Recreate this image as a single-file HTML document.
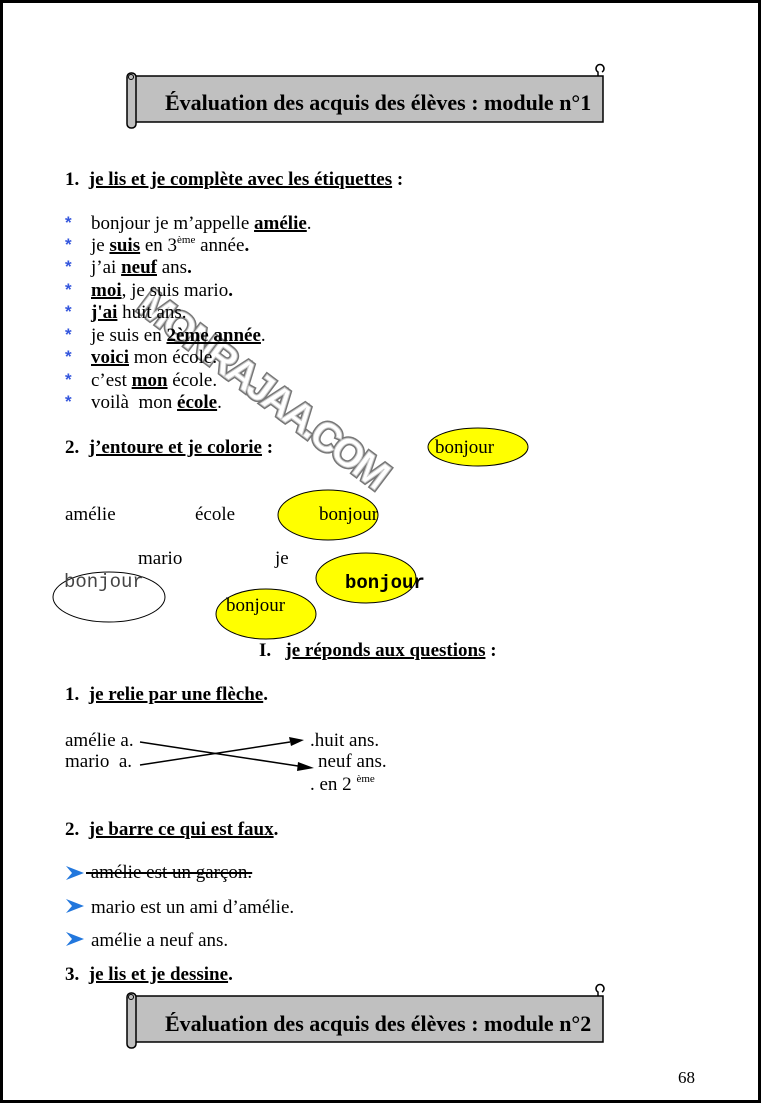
<!DOCTYPE html>
<html><head><meta charset="utf-8"><style>
body{margin:0;width:761px;height:1103px;position:relative;background:#fff;overflow:hidden;font-family:"Liberation Serif",serif;}
.t{position:absolute;font-size:19px;line-height:20px;white-space:nowrap;color:#000}
.b{font-weight:bold}
u{text-decoration-thickness:1.5px}
.st{position:absolute;color:#3355dd;font-weight:bold;font-size:17px;line-height:18px;font-family:"Liberation Sans",sans-serif}
sup{font-size:11px;vertical-align:8px;line-height:0}
.title{position:absolute;font-size:22px;font-weight:bold;white-space:nowrap;line-height:24px}
</style></head><body>
<div style="position:absolute;left:0;top:0;width:755px;height:1097px;border:3px solid #000"></div>
<svg width="761" height="1103" style="position:absolute;left:0;top:0">
 <g id="b1">
  <rect x="133" y="76" width="470" height="46" fill="#c0c0c0" stroke="#000" stroke-width="1.5"/>
  <path d="M598 76 V72 a4 4 0 1 1 4 0" fill="none" stroke="#000" stroke-width="1.5"/>
  <rect x="127" y="73" width="9" height="55" rx="4" fill="#c0c0c0" stroke="#000" stroke-width="1.5"/>
  <circle cx="131" cy="77" r="2.5" fill="none" stroke="#000"/>
 </g>
 <g transform="translate(0,920)">
  <rect x="133" y="76" width="470" height="46" fill="#c0c0c0" stroke="#000" stroke-width="1.5"/>
  <path d="M598 76 V72 a4 4 0 1 1 4 0" fill="none" stroke="#000" stroke-width="1.5"/>
  <rect x="127" y="73" width="9" height="55" rx="4" fill="#c0c0c0" stroke="#000" stroke-width="1.5"/>
  <circle cx="131" cy="77" r="2.5" fill="none" stroke="#000"/>
 </g>
 <ellipse cx="478" cy="447" rx="50" ry="19" fill="#ffff00" stroke="#000"/>
 <ellipse cx="328" cy="515" rx="50" ry="25" fill="#ffff00" stroke="#000"/>
 <ellipse cx="366" cy="578" rx="50" ry="25" fill="#ffff00" stroke="#000"/>
 <ellipse cx="109" cy="597" rx="56" ry="25" fill="#fff" stroke="#000"/>
 <ellipse cx="266" cy="614" rx="50" ry="25" fill="#ffff00" stroke="#000"/>
 <text x="262" y="402" transform="rotate(37 262 390)" text-anchor="middle" font-family="Liberation Sans,sans-serif" font-weight="bold" font-size="40" fill="#fff" stroke="#777" stroke-width="4" paint-order="stroke" letter-spacing="-3">MONRAJAA.COM</text>
 <text x="262" y="402" transform="rotate(37 262 390)" text-anchor="middle" font-family="Liberation Sans,sans-serif" font-weight="bold" font-size="40" fill="#fff" stroke="#ccc" stroke-width="1" letter-spacing="-3">MONRAJAA.COM</text>
 <line x1="140" y1="742" x2="298" y2="766" stroke="#000" stroke-width="1.5"/>
 <polygon points="314,768 298,762 297,771" fill="#000"/>
 <line x1="140" y1="765" x2="290" y2="742" stroke="#000" stroke-width="1.5"/>
 <polygon points="304,740 289,737 291,746" fill="#000"/>
 <g fill="#2277dd">
  <polygon points="66,866 84,873 66,880 72,873"/>
  <polygon points="66,899 84,906 66,913 72,906"/>
  <polygon points="66,932 84,939 66,946 72,939"/>
 </g>
</svg>
<div class="title" style="left:165px;top:91px">Évaluation des acquis des élèves : module n°1</div>
<div class="title" style="left:165px;top:1012px">Évaluation des acquis des élèves : module n°2</div>

<div class="t b" style="left:65px;top:170px">1.&nbsp;&nbsp;<u>je lis et je complète avec les étiquettes</u> :</div>

<div class="st" style="left:65px;top:214px">*</div><div class="t" style="left:91px;top:214px">bonjour je m’appelle <b><u>amélie</u></b>.</div>
<div class="st" style="left:65px;top:236px">*</div><div class="t" style="left:91px;top:236px">je <b><u>suis</u></b> en 3<sup>ème</sup> année<b>.</b></div>
<div class="st" style="left:65px;top:258px">*</div><div class="t" style="left:91px;top:258px">j’ai <b><u>neuf</u></b> ans<b>.</b></div>
<div class="st" style="left:65px;top:281px">*</div><div class="t" style="left:91px;top:281px"><b><u>moi</u></b>, je suis mario<b>.</b></div>
<div class="st" style="left:65px;top:303px">*</div><div class="t" style="left:91px;top:303px"><b><u>j'ai</u></b> huit ans.</div>
<div class="st" style="left:65px;top:326px">*</div><div class="t" style="left:91px;top:326px">je suis en <b><u>2ème année</u></b>.</div>
<div class="st" style="left:65px;top:348px">*</div><div class="t" style="left:91px;top:348px"><b><u>voici</u></b> mon école.</div>
<div class="st" style="left:65px;top:371px">*</div><div class="t" style="left:91px;top:371px">c’est <b><u>mon</u></b> école.</div>
<div class="st" style="left:65px;top:393px">*</div><div class="t" style="left:91px;top:393px">voilà&nbsp; mon <b><u>école</u></b>.</div>

<div class="t b" style="left:65px;top:438px">2.&nbsp;&nbsp;<u>j’entoure et je colorie</u> :</div>
<div class="t" style="left:435px;top:438px">bonjour</div>
<div class="t" style="left:65px;top:505px">amélie</div>
<div class="t" style="left:195px;top:505px">école</div>
<div class="t" style="left:319px;top:505px">bonjour</div>
<div class="t" style="left:138px;top:549px">mario</div>
<div class="t" style="left:275px;top:549px">je</div>
<div class="t" style="left:64px;top:572px;font-family:'Liberation Mono',monospace;font-size:19px;color:#444">bonjour</div>
<div class="t" style="left:345px;top:573px;font-family:'Liberation Mono',monospace;font-size:19px;font-weight:bold">bonjour</div>
<div class="t" style="left:226px;top:596px">bonjour</div>
<div class="t b" style="left:259px;top:641px">I.&nbsp;&nbsp;&nbsp;<u>je réponds aux questions</u> :</div>

<div class="t b" style="left:65px;top:685px">1.&nbsp;&nbsp;<u>je relie par une flèche</u>.</div>
<div class="t" style="left:65px;top:731px">amélie a.</div>
<div class="t" style="left:65px;top:752px">mario&nbsp; a.</div>
<div class="t" style="left:310px;top:731px">.huit ans.</div>
<div class="t" style="left:318px;top:752px">neuf ans.</div>
<div class="t" style="left:310px;top:775px">. en 2 <sup>ème</sup></div>

<div class="t b" style="left:65px;top:820px">2.&nbsp;&nbsp;<u>je barre ce qui est faux</u>.</div>
<div class="t" style="left:86px;top:863px;text-decoration:line-through;text-decoration-thickness:1.5px">&nbsp;amélie est un garçon.</div>
<div class="t" style="left:91px;top:898px">mario est un ami d’amélie.</div>
<div class="t" style="left:91px;top:931px">amélie a neuf ans.</div>
<div class="t b" style="left:65px;top:965px">3.&nbsp;&nbsp;<u>je lis et je dessine</u>.</div>

<div class="t" style="left:678px;top:1068px;font-size:17px">68</div>
</body></html>
